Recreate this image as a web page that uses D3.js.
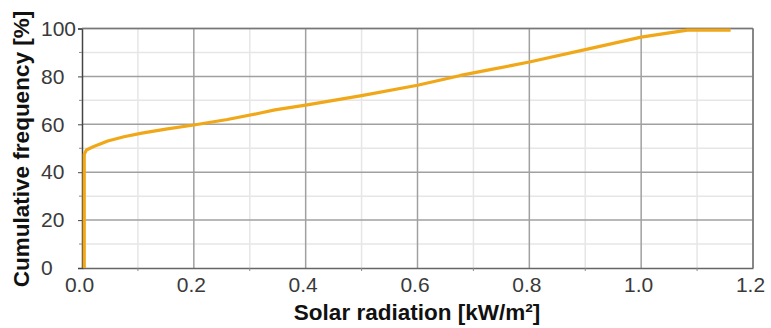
<!DOCTYPE html>
<html>
<head>
<meta charset="utf-8">
<script src="https://cdn.jsdelivr.net/npm/d3@7"></script>
<style>
  body { margin: 0; background: #fff; }
  svg text { font-family: "Liberation Sans", Arial, sans-serif; }
</style>
</head>
<body>
<div id="chart"></div>
<script>
// Cumulative frequency curve
const radiation = [0.004, 0.004, 0.008, 0.02, 0.046, 0.075, 0.107, 0.15, 0.2, 0.26, 0.319, 0.345, 0.4, 0.5, 0.6, 0.677, 0.73, 0.767, 0.8, 0.91, 1.0, 1.05, 1.083, 1.16];
const frequency = [0, 47.5, 49.3, 50.6, 53, 54.8, 56.3, 58, 59.7, 62, 64.7, 66, 68, 72, 76.3, 80.4, 82.8, 84.5, 86, 91.7, 96.4, 98.2, 99.3, 99.3];
const xTicks = [0, 0.2, 0.4, 0.6, 0.8, 1.0, 1.2];
const yTicks = [0, 20, 40, 60, 80, 100];
const xMinor = [0.1, 0.3, 0.5, 0.7, 0.9, 1.1];
const yMinor = [10, 30, 50, 70, 90];

const W = 771, H = 328;
const mLeft = 82, mRight = 753, mTop = 28.5, mBottom = 268;

const svg = d3.select("#chart").append("svg")
  .attr("width", W).attr("height", H);

const x = d3.scaleLinear().domain([0, 1.2]).range([mLeft, mRight]);
const y = d3.scaleLinear().domain([0, 100]).range([mBottom, mTop]);

// minor grid
svg.append("g").selectAll("line").data(xMinor).join("line")
  .attr("x1", d => x(d)).attr("x2", d => x(d))
  .attr("y1", mTop).attr("y2", mBottom)
  .attr("stroke", "#e6e6e6").attr("stroke-width", 1.5);
svg.append("g").selectAll("line").data(yMinor).join("line")
  .attr("x1", mLeft).attr("x2", mRight)
  .attr("y1", d => y(d)).attr("y2", d => y(d))
  .attr("stroke", "#e6e6e6").attr("stroke-width", 1.5);

// major grid
svg.append("g").selectAll("line").data(xTicks.slice(1)).join("line")
  .attr("x1", d => x(d)).attr("x2", d => x(d))
  .attr("y1", mTop).attr("y2", mBottom)
  .attr("stroke", "#a0a0a0").attr("stroke-width", 1.5);
svg.append("g").selectAll("line").data(yTicks.slice(1)).join("line")
  .attr("x1", mLeft).attr("x2", mRight)
  .attr("y1", d => y(d)).attr("y2", d => y(d))
  .attr("stroke", "#a0a0a0").attr("stroke-width", 1.5);

// axes
const xAxis = svg.append("g")
  .attr("transform", `translate(0,${mBottom})`)
  .call(d3.axisBottom(x).tickValues(xTicks).tickFormat(d3.format(".1f")).tickSize(0).tickPadding(9));
xAxis.select(".domain").attr("stroke", "#666").attr("stroke-width", 1.5);
xAxis.selectAll("text").attr("font-size", 21).attr("fill", "#3a3a3a").attr("dx", -3);
xAxis.selectAll(".minor").data(xMinor).join("line").attr("class", "minor")
  .attr("x1", d => x(d)).attr("x2", d => x(d)).attr("y1", 0).attr("y2", 3)
  .attr("stroke", "#888");

const yAxis = svg.append("g")
  .attr("transform", `translate(${mLeft},0)`)
  .call(d3.axisLeft(y).tickValues(yTicks).tickSize(4).tickPadding(3));
yAxis.select(".domain").attr("stroke", "#444").attr("stroke-width", 1.5);
yAxis.selectAll(".tick line").attr("stroke", "#444");
// labels in the reference are left-aligned
yAxis.selectAll(".tick text")
  .attr("font-size", 21).attr("fill", "#3a3a3a")
  .attr("text-anchor", "start").attr("x", 41 - mLeft);
yAxis.selectAll(".minor").data(yMinor).join("line").attr("class", "minor")
  .attr("x1", -3).attr("x2", 0).attr("y1", d => y(d)).attr("y2", d => y(d))
  .attr("stroke", "#888");

// frame top & right
svg.append("line").attr("x1", mLeft).attr("x2", mRight).attr("y1", mTop).attr("y2", mTop)
  .attr("stroke", "#777").attr("stroke-width", 1.5);
svg.append("line").attr("x1", mRight).attr("x2", mRight).attr("y1", mTop).attr("y2", mBottom)
  .attr("stroke", "#777").attr("stroke-width", 1.5);

// curve
const pts = radiation.map((r, i) => [r, frequency[i]]);
svg.append("path")
  .datum(pts)
  .attr("fill", "none")
  .attr("stroke", "#f0a818")
  .attr("stroke-width", 3.2)
  .attr("stroke-linejoin", "round")
  .attr("d", d3.line().x(d => x(d[0])).y(d => y(d[1])));

// titles
svg.append("text")
  .attr("x", 417).attr("y", 320)
  .attr("text-anchor", "middle")
  .attr("font-size", 22.5).attr("font-weight", "bold").attr("fill", "#111")
  .text("Solar radiation [kW/m²]");

svg.append("text")
  .attr("transform", "translate(29,149) rotate(-90)")
  .attr("text-anchor", "middle")
  .attr("font-size", 22.5).attr("font-weight", "bold").attr("fill", "#111")
  .text("Cumulative frequency [%]");
</script>
</body>
</html>
